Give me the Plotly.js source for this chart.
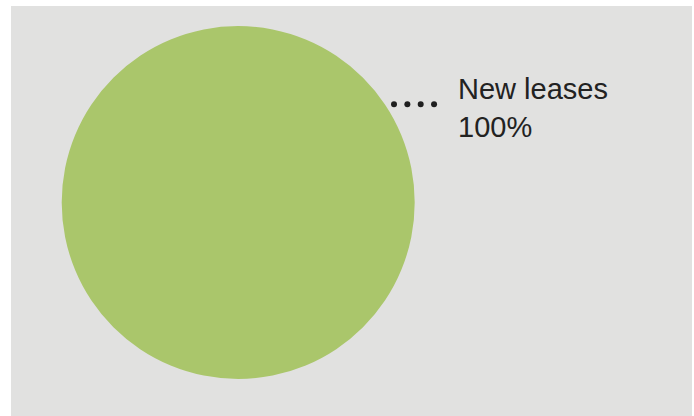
<!DOCTYPE html>
<html>
<head>
<meta charset="utf-8">
<script src="https://cdn.plot.ly/plotly-3.0.1.min.js"></script>
<style>
html,body{margin:0;padding:0;background:#ffffff;width:694px;height:416px;overflow:hidden;}
#chart{position:absolute;left:11px;top:6px;width:681px;height:410px;}
</style>
</head>
<body>
<div id="chart"></div>
<script>
var labels = ["New leases"];
var values = [100];
var percentLabels = ["100%"];

var W = 681, H = 410;
var px = function(x){ return x / W; };
var py = function(y){ return 1 - y / H; };

// leader dots (decoration)
var dotStart = 383, dotStep = 13.35, dotCount = 4, dotY = 98.3, dotR = 3;
var shapes = [];
for (var i = 0; i < dotCount; i++) {
  var cx = dotStart + i * dotStep;
  shapes.push({
    type: 'circle', xref: 'paper', yref: 'paper',
    x0: px(cx - dotR), x1: px(cx + dotR),
    y0: py(dotY + dotR), y1: py(dotY - dotR),
    fillcolor: '#1f1f1f', line: {width: 0}
  });
}

var data = [{
  type: 'pie',
  labels: labels,
  values: values,
  sort: false,
  textinfo: 'none',
  hoverinfo: 'label+percent',
  marker: {colors: ['#aac66b'], line: {width: 0}},
  domain: {x: [50.7 / W, 403.7 / W], y: [37 / H, 390 / H]},
  showlegend: false
}];

var layout = {
  width: W, height: H,
  margin: {l: 0, r: 0, t: 0, b: 0},
  paper_bgcolor: '#e1e1e0',
  plot_bgcolor: '#e1e1e0',
  showlegend: false,
  shapes: shapes,
  annotations: [{
    xref: 'paper', yref: 'paper',
    x: px(445), y: py(64.5),
    xanchor: 'left', yanchor: 'top',
    align: 'left',
    showarrow: false,
    text: labels[0] + '<br>' + percentLabels[0],
    font: {family: 'Liberation Sans, Arial, sans-serif', size: 29, color: '#222222'}
  }]
};

Plotly.newPlot('chart', data, layout, {staticPlot: true, displayModeBar: false});
</script>
</body>
</html>
